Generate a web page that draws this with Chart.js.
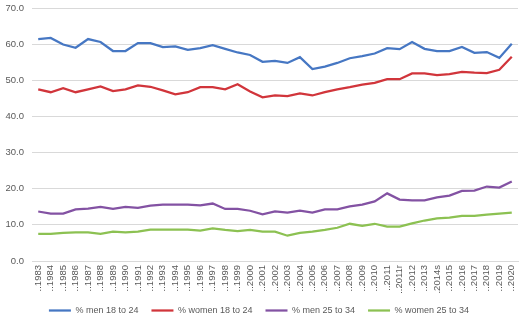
<!DOCTYPE html>
<html>
<head>
<meta charset="utf-8">
<style>
    html, body { margin: 0; padding: 0; background: #fff; }
    #wrap { width: 527px; height: 325px; }
</style>
<script src="https://cdn.jsdelivr.net/npm/chart.js@4/dist/chart.umd.min.js"></script>
</head>
<body>
<div id="wrap"><canvas id="chart"></canvas></div>
<script>
const years = [
    '..1983', '..1984', '..1985', '..1986', '..1987', '..1988', '..1989', '..1990',
    '..1991', '..1992', '..1993', '..1994', '..1995', '..1996', '..1997', '..1998',
    '..1999', '..2000', '..2001', '..2002', '..2003', '..2004', '..2005', '..2006',
    '..2007', '..2008', '..2009', '..2010', '..2011', '..2011r', '..2012', '..2013',
    '..2014s', '..2015', '..2016', '..2017', '..2018', '..2019', '..2020',
];

const men18to24 = [
    61.4, 61.7, 59.9, 59.0, 61.4, 60.6, 58.1, 58.1, 60.3, 60.3,
    59.2, 59.4, 58.4, 58.9, 59.7, 58.7, 57.7, 57.0, 55.1, 55.4,
    54.8, 56.4, 53.1, 53.8, 54.8, 56.1, 56.7, 57.4, 58.9, 58.6,
    60.6, 58.7, 58.1, 58.1, 59.2, 57.6, 57.8, 56.2, 60.1,
];

const women18to24 = [
    47.5, 46.7, 47.8, 46.7, 47.5, 48.3, 47.0, 47.5, 48.6, 48.2,
    47.2, 46.1, 46.7, 48.1, 48.1, 47.5, 48.9, 46.9, 45.3, 45.8,
    45.6, 46.4, 45.8, 46.7, 47.5, 48.1, 48.8, 49.3, 50.3, 50.3,
    51.9, 51.9, 51.4, 51.7, 52.3, 52.1, 52.0, 52.9, 56.5,
];

const men25to34 = [
    13.7, 13.1, 13.1, 14.3, 14.5, 15.0, 14.4, 15.0, 14.7, 15.3,
    15.6, 15.6, 15.6, 15.4, 15.9, 14.4, 14.4, 13.9, 12.9, 13.7,
    13.4, 13.9, 13.4, 14.3, 14.3, 15.1, 15.6, 16.5, 18.7, 17.0,
    16.8, 16.8, 17.6, 18.1, 19.4, 19.5, 20.6, 20.3, 22.0,
];

const women25to34 = [
    7.5, 7.5, 7.8, 7.9, 7.9, 7.5, 8.1, 7.9, 8.1, 8.7,
    8.7, 8.7, 8.7, 8.4, 9.0, 8.6, 8.3, 8.6, 8.1, 8.1,
    7.0, 7.8, 8.1, 8.6, 9.2, 10.3, 9.7, 10.3, 9.5, 9.5,
    10.4, 11.2, 11.8, 12.0, 12.5, 12.5, 12.8, 13.1, 13.4,
];

const yTicks = [0, 10, 20, 30, 40, 50, 60, 70];

(() => {
    const canvas = document.getElementById('chart');
    if (!canvas) {
        return;
    }

    const font = { family: '"Liberation Sans", Arial, sans-serif', size: 9.5 };
    const legendFont = { family: '"Liberation Sans", Arial, sans-serif', size: 9 };
    const textColor = '#595959';
    const gridColor = '#d9d9d9';

    const makeLine = (label, data, color) => ({
        label,
        data,
        borderColor: color,
        backgroundColor: color,
        borderWidth: 2.25,
        pointRadius: 0,
        pointHoverRadius: 0,
        tension: 0,
        fill: false,
    });

    new Chart(canvas.getContext('2d'), {
        type: 'line',
        data: {
            labels: years,
            datasets: [
                makeLine('% men 18 to 24', men18to24, '#4677c3'),
                makeLine('% women 18 to 24', women18to24, '#d1353b'),
                makeLine('% men 25 to 34', men25to34, '#8352a3'),
                makeLine('% women 25 to 34', women25to34, '#8cc152'),
            ],
        },
        options: {
            responsive: true,
            maintainAspectRatio: false,
            animation: false,
            layout: {
                padding: { top: 8, right: 9, bottom: 0, left: 0 },
            },
            plugins: {
                legend: {
                    position: 'bottom',
                    labels: {
                        color: textColor,
                        font: legendFont,
                        usePointStyle: true,
                        pointStyle: 'line',
                        pointStyleWidth: 22,
                        padding: 13,
                    },
                },
                tooltip: { enabled: false },
            },
            scales: {
                x: {
                    offset: true,
                    grid: { display: false, drawTicks: false },
                    border: { color: gridColor, width: 1 },
                    ticks: {
                        color: textColor,
                        font,
                        autoSkip: false,
                        minRotation: 90,
                        maxRotation: 90,
                        padding: 4,
                    },
                    afterFit: (scale) => {
                        scale.height = 32;
                        scale.paddingLeft = 0;
                        scale.paddingRight = 0;
                    },
                },
                y: {
                    min: 0,
                    max: 70,
                    afterBuildTicks: (scale) => {
                        scale.ticks = yTicks.map((v) => ({ value: v }));
                    },
                    grid: { color: gridColor, lineWidth: 1, drawTicks: false },
                    border: { display: false },
                    ticks: {
                        color: textColor,
                        font,
                        padding: 8,
                        callback: (value) => Number(value).toFixed(1),
                    },
                    afterFit: (scale) => {
                        scale.width = 32;
                        scale.paddingTop = 0;
                        scale.paddingBottom = 0;
                    },
                },
            },
        },
    });
})();
</script>
</body>
</html>
